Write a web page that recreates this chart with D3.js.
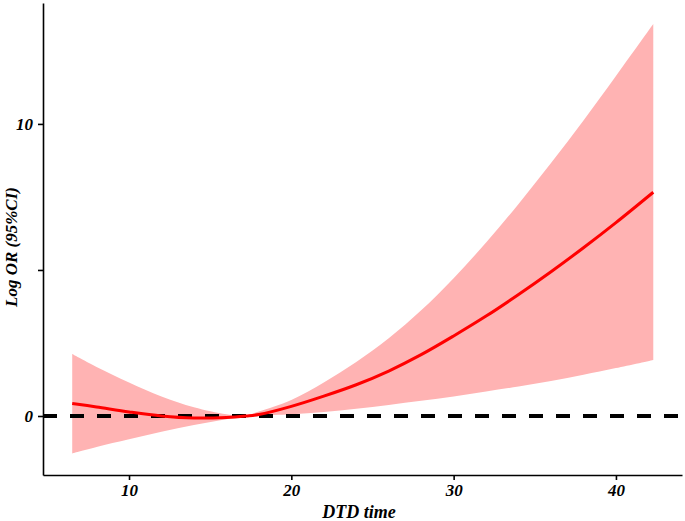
<!DOCTYPE html>
<html>
<head>
<meta charset="utf-8">
<script src="https://cdn.jsdelivr.net/npm/d3@7"></script>
<style>
  html, body { margin: 0; padding: 0; background: #fff; }
  svg { display: block; }
  .tick text { font-family: "Liberation Serif", "Times New Roman", serif; font-weight: bold; font-style: italic; }
</style>
</head>
<body>
<svg id="chart" width="685" height="521"></svg>
<script>
// ---- data ----
const refPoint = 17.2;
const dtdTime = [6.5, 8, 10, 12, 14, 16, 17.2, 18, 20, 22, 24, 26, 28, 30, 32, 34, 36, 38, 40, 42.3];
const logOR   = [0.43, 0.31, 0.14, 0.0, -0.07, -0.05, 0.0, 0.05, 0.33, 0.68, 1.07, 1.54, 2.10, 2.74, 3.42, 4.16, 4.94, 5.76, 6.62, 7.66];
const upperCI = [2.12, 1.68, 1.15, 0.67, 0.30, 0.06, 0.0, 0.15, 0.55, 1.15, 1.85, 2.66, 3.62, 4.72, 5.94, 7.26, 8.66, 10.12, 11.64, 13.42];
const lowerCI = [-1.28, -1.06, -0.80, -0.54, -0.31, -0.11, 0.0, 0.02, 0.06, 0.14, 0.25, 0.38, 0.52, 0.67, 0.84, 1.01, 1.20, 1.41, 1.64, 1.92];
const xTicks = [10, 20, 30, 40];
const yTicks = [0, 5, 10];
const yTickLabels = ["0", "", "10"];

// ---- layout ----
const svg = d3.select("#chart");
const x = d3.scaleLinear().domain([4.70, 44.07]).range([43, 682]);
const y = d3.scaleLinear().domain([-2.02, 14.14]).range([475, 3]);

const rows = dtdTime.map((t, i) => ({ t, v: logOR[i], lo: lowerCI[i], hi: upperCI[i] }));
const leftRows = rows.filter(d => d.t <= refPoint);
const rightRows = rows.filter(d => d.t >= refPoint);

// CI band (two pieces meeting at the reference point)
const band = d3.area()
  .x(d => x(d.t))
  .y0(d => y(d.lo))
  .y1(d => y(d.hi))
  .curve(d3.curveCatmullRom.alpha(0.5));
[leftRows, rightRows].forEach(part => {
  svg.append("path")
    .datum(part)
    .attr("fill", "#FFB3B3")
    .attr("d", band);
});

// reference line at 0
svg.append("line")
  .attr("x1", x.range()[0]).attr("x2", x.range()[1])
  .attr("y1", y(0)).attr("y2", y(0))
  .attr("stroke", "#000")
  .attr("stroke-width", 4)
  .attr("stroke-dasharray", "14,13");

// estimate line
svg.append("path")
  .datum(rows)
  .attr("fill", "none")
  .attr("stroke", "#FF0000")
  .attr("stroke-width", 3)
  .attr("d", d3.line()
    .x(d => x(d.t))
    .y(d => y(d.v))
    .curve(d3.curveCatmullRom.alpha(0.5)));

// axes
const xAxis = svg.append("g")
  .attr("transform", `translate(0,${475})`)
  .call(d3.axisBottom(x).tickValues(xTicks).tickSize(5).tickSizeOuter(0).tickPadding(4));
const yAxis = svg.append("g")
  .attr("transform", `translate(${43},0)`)
  .call(d3.axisLeft(y).tickValues(yTicks).tickSize(5).tickSizeOuter(0).tickPadding(5)
    .tickFormat((d, i) => yTickLabels[i]));

[xAxis, yAxis].forEach(g => {
  g.select(".domain").attr("stroke", "#000").attr("stroke-width", 1.6);
  g.selectAll(".tick line").attr("stroke", "#000").attr("stroke-width", 1.6);
  g.selectAll(".tick text").attr("fill", "#000").style("font-size", "17px");
});

// axis titles
svg.append("text")
  .attr("x", 359).attr("y", 518)
  .attr("text-anchor", "middle")
  .style("font-family", "'Liberation Serif', 'Times New Roman', serif")
  .style("font-weight", "bold").style("font-style", "italic")
  .style("font-size", "18px")
  .text("DTD time");

svg.append("text")
  .attr("transform", `translate(17,${247}) rotate(-90)`)
  .attr("text-anchor", "middle")
  .style("font-family", "'Liberation Serif', 'Times New Roman', serif")
  .style("font-weight", "bold").style("font-style", "italic")
  .style("font-size", "17px")
  .text("Log OR (95%CI)");
</script>
</body>
</html>
